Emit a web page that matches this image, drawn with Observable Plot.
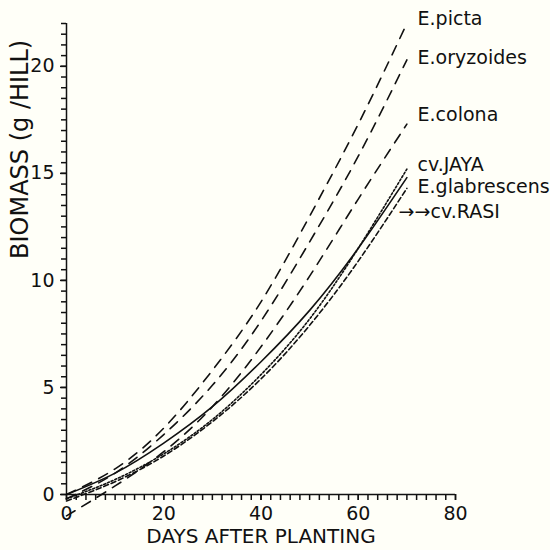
<!DOCTYPE html>
<html>
<head>
<meta charset="utf-8">
<script src="https://cdn.jsdelivr.net/npm/d3@7"></script>
<script src="https://cdn.jsdelivr.net/npm/@observablehq/plot@0.6"></script>
<style>
  html, body { margin: 0; padding: 0; background: #fffff8; }
  #chart { width: 550px; height: 550px; }
  svg { font-family: "DejaVu Sans", sans-serif; }
</style>
</head>
<body>
<div id="chart"></div>
<script>
const days = [0, 10, 20, 30, 40, 50, 60, 70];
const ePicta       = [0.0, 1.2, 3.1, 5.8, 9.0, 13.0, 17.3, 22.0];
const eOryzoides   = [-0.2, 1.0, 2.8, 5.1, 8.1, 11.8, 15.8, 20.3];
const eColona      = [-1.0, 0.4, 2.0, 4.1, 6.9, 10.2, 13.8, 17.3];
const cvJaya       = [-0.2, 0.7, 1.9, 3.5, 5.6, 8.2, 11.5, 15.2];
const eGlabrescens = [0.0, 1.0, 2.4, 4.1, 6.2, 8.6, 11.5, 14.8];
const cvRasi       = [-0.3, 0.6, 1.8, 3.4, 5.4, 7.9, 10.9, 14.3];

const seriesNames = ["E.picta", "E.oryzoides", "E.colona", "cv.JAYA", "E.glabrescens", "→→cv.RASI"];
const seriesValues = [ePicta, eOryzoides, eColona, cvJaya, eGlabrescens, cvRasi];
const seriesDash = ["10,8", "10,8", "10,8", "2,2", null, "5,3"];
const labelX = [72.2, 72.2, 72.2, 72.2, 72.2, 68.3];
const labelY = [22.2, 20.4, 17.75, 15.4, 14.35, 13.2];

const yMajor = [0, 5, 10, 15, 20];
const yMinor = d3.range(0, 22.01, 0.5);
const xMajor = [0, 20, 40, 60, 80];
const xMinor = d3.range(0, 80.01, 2);

const lineMarks = seriesValues.map((vals, i) =>
  Plot.line(days.map((d, j) => ({x: d, y: vals[j]})), {
    x: "x", y: "y", curve: "natural",
    stroke: "#111", strokeWidth: 1.6,
    strokeDasharray: seriesDash[i]
  })
);

const labels = seriesNames.map((n, i) => ({name: n, x: labelX[i], y: labelY[i]}));

const plot = Plot.plot({
  width: 550,
  height: 550,
  marginLeft: 66,
  marginRight: 95,
  marginTop: 23,
  marginBottom: 56,
  style: {background: "#fffff8", color: "#111", fontFamily: "DejaVu Sans, sans-serif"},
  x: {domain: [0, 80]},
  y: {domain: [0, 22]},
  marks: [
    Plot.axisY({ticks: yMinor, tickSize: 5, tickFormat: () => "", strokeWidth: 1.5, label: null}),
    Plot.axisY({ticks: yMajor, tickSize: 6, tickPadding: 6, fontSize: 19, strokeWidth: 1.5, label: null}),
    Plot.axisX({ticks: xMinor, tickSize: 6, tickFormat: () => "", strokeWidth: 1.5, label: null}),
    Plot.axisX({ticks: xMajor, tickSize: 6, tickPadding: 6, fontSize: 19, strokeWidth: 1.5, label: null}),
    Plot.ruleX([0], {y1: 0, y2: 22, stroke: "#111", strokeWidth: 1.5}),
    Plot.ruleY([0], {x1: 0, x2: 80, stroke: "#111", strokeWidth: 1.5}),
    ...lineMarks,
    Plot.text(labels, {x: "x", y: "y", text: "name", textAnchor: "start", fontSize: 19, fill: "#111"}),
    Plot.text(["DAYS AFTER PLANTING"], {frameAnchor: "bottom", lineAnchor: "bottom", dy: 48, fontSize: 20, fill: "#111"}),
    Plot.text(["BIOMASS (g /HILL)"], {frameAnchor: "left", rotate: -90, dx: -46, fontSize: 24, fill: "#111"})
  ]
});
document.getElementById("chart").appendChild(plot);
</script>
</body>
</html>
